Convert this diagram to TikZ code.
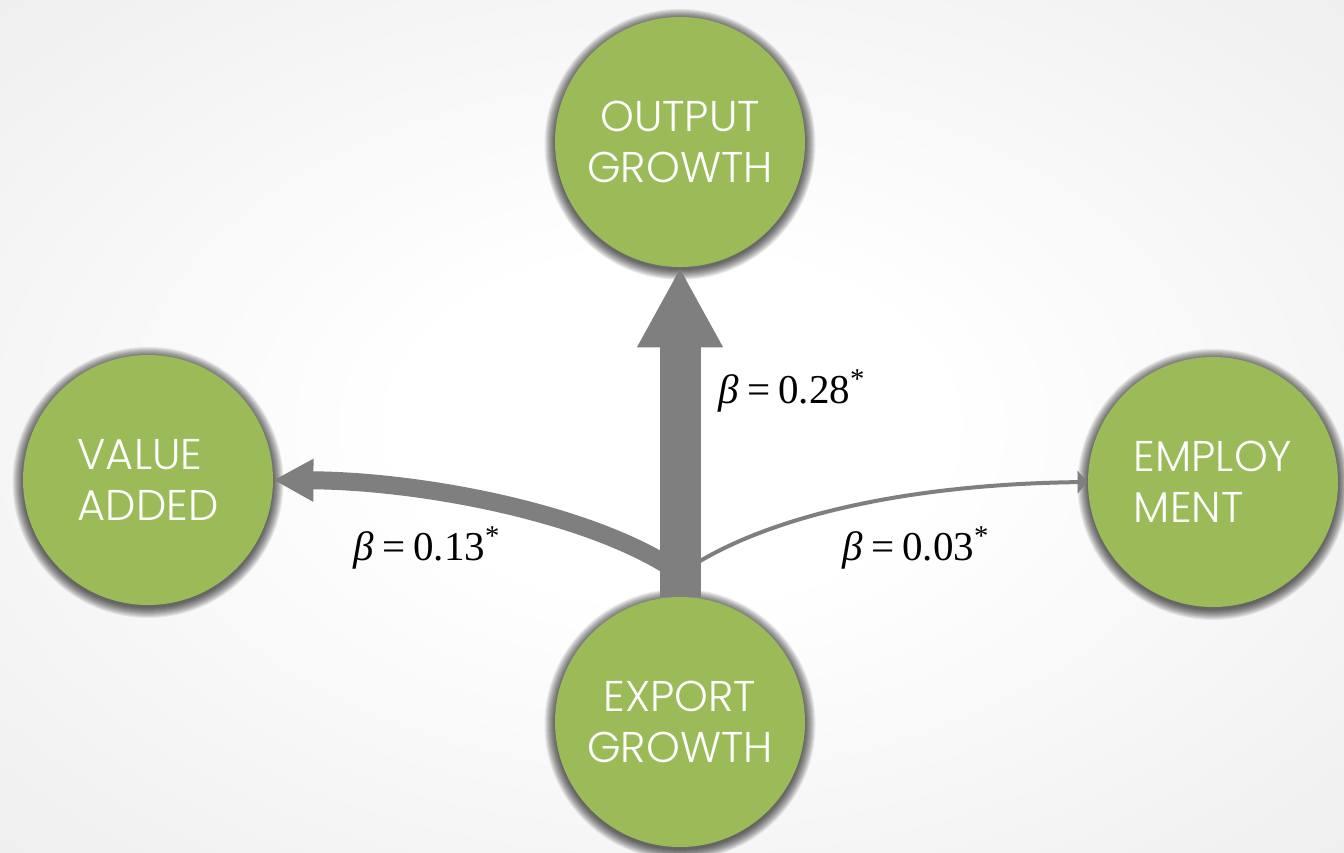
\documentclass[tikz,border=0pt]{standalone}
\usepackage{fontspec}
\setmainfont{Liberation Serif}
\newfontfamily\gothic{Poppins Light}
\usetikzlibrary{arrows.meta,backgrounds}
\definecolor{leaf}{HTML}{9BBB59}
\definecolor{arrowgray}{HTML}{7F7F7F}
\pgfdeclareradialshading{bgshade}{\pgfpoint{0bp}{0bp}}{color(0bp)=(white); color(10bp)=(white); color(55bp)=(black!11); color(72bp)=(black!15)}
\begin{document}
\begin{tikzpicture}[x=0.5pt,y=-0.5pt,
  bubble/.style={circle, fill=leaf, minimum size=125pt, inner sep=0pt, text=white, align=left,
    font=\gothic\fontsize{21.5}{25.5}\selectfont},
  softshadow/.style={fill=black, opacity=0.075},
  coef/.style={font=\fontsize{20.5}{24}\selectfont, text=black, inner sep=0pt},
  link/.style={draw=arrowgray}]
\useasboundingbox (0,0) rectangle (1344,852);

\node[bubble, align=center] (og) at (680,142) {OUTPUT\\GROWTH};
\node[bubble] (va) at (148,480) {VALUE\\ADDED};
\node[bubble] (em) at (1213,482) {EMPLOY\\MENT};
\node[bubble, align=center] (eg) at (680,722) {EXPORT\\GROWTH};

\begin{scope}[on background layer]
  \shade[shading=bgshade] (0,0) rectangle (1344,852);
  \foreach \n in {og,va,em,eg}{
    \foreach \r in {0.5,1.5,...,10.5}{
      \fill[softshadow] ([yshift=-1.2pt]\n.center) circle[radius=125+\r];
    }
  }
\end{scope}

\coordinate (vs) at (672,568);
\coordinate (es) at (695,564);

\draw[link, line width=9pt, -{Triangle[length=20pt,width=20pt]}] (vs) .. controls (585,512) and (420,481) .. (va.east);
\draw[link, line width=2pt, -{Triangle[length=5pt,width=11pt]}] (es) .. controls (780,512) and (920,484) .. (em.west);
\draw[link, line width=20.5pt, -{Triangle[length=40pt,width=40pt]}] (eg.north) -- (og.south);

\node[coef] (l1) at (792,391) {\textit{β}\hspace{0.2em}=\hspace{0.2em}0.28\textsuperscript{*}};
\node[coef] (l2) at (427,548) {\textit{β}\hspace{0.2em}=\hspace{0.2em}0.13\textsuperscript{*}};
\node[coef] (l3) at (916,548) {\textit{β}\hspace{0.2em}=\hspace{0.2em}0.03\textsuperscript{*}};
\end{tikzpicture}
\end{document}
